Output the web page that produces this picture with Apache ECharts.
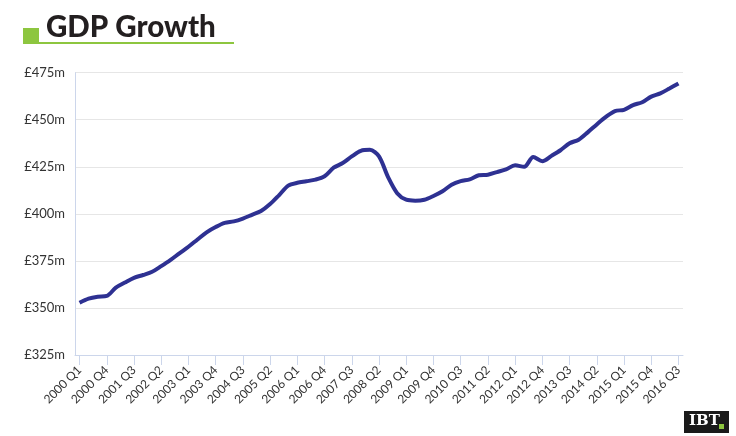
<!DOCTYPE html>
<html>
<head>
<meta charset="utf-8">
<script src="https://cdn.jsdelivr.net/npm/echarts@6/dist/echarts.min.js"></script>
<style>
html,body{margin:0;padding:0;background:#fff;}
#chart{width:736px;height:436px;}
</style>
</head>
<body>
<div id="chart"></div>
<script>
const titleText = 'GDP Growth';
const years = [2000,2001,2002,2003,2004,2005,2006,2007,2008,2009,2010,2011,2012,2013,2014,2015,2016];
const quarters = ['Q1','Q2','Q3','Q4'];
const categories = [];
years.forEach(y => quarters.forEach(q => { if (!(y === 2016 && q === 'Q4')) categories.push(y + ' ' + q); }));
const gdpValues = [
  352.8, 355.0, 356.0, 356.4, 360.8, 363.5, 366.0, 367.5, 369.2, 372.2,
  375.4, 379.0, 382.5, 386.4, 390.2, 393.0, 395.2, 396.0, 397.5, 399.5,
  401.5, 405.2, 410.0, 415.0, 416.5, 417.3, 418.2, 420.0, 424.5, 427.0,
  430.5, 433.5, 434.0, 430.5, 419.5, 411.0, 407.5, 407.0, 407.5, 409.5,
  412.0, 415.5, 417.4, 418.3, 420.5, 420.8, 422.2, 423.6, 425.8, 425.0,
  430.2, 428.0, 430.8, 433.8, 437.5, 439.4, 443.3, 447.5, 451.5, 454.6,
  455.3, 457.8, 459.3, 462.3, 464.0, 466.6, 469.3
];
const yMin = 325, yMax = 475, yStep = 25;

const chart = echarts.init(document.getElementById('chart'), null, {renderer: 'canvas'});
chart.setOption({
  animation: false,
  backgroundColor: '#ffffff',
  textStyle: {fontFamily: 'Lato'},
  grid: {left: 75, right: 53, top: 72.7, bottom: 81},
  xAxis: {
    type: 'category',
    data: categories,
    boundaryGap: true,
    axisLine: {lineStyle: {color: '#ccd6eb', width: 1}},
    axisTick: {show: true, interval: 2, alignWithLabel: true, length: 10, lineStyle: {color: '#ccd6eb'}},
    axisLabel: {interval: 2, rotate: 45, color: '#333', fontSize: 12, fontFamily: 'Lato', margin: 13},
    splitLine: {show: false}
  },
  yAxis: {
    type: 'value',
    min: yMin, max: yMax, interval: yStep,
    axisLine: {show: true, lineStyle: {color: '#ccd6eb', width: 1}},
    axisTick: {show: false},
    axisLabel: {formatter: '£{value}m', color: '#333', fontSize: 13, fontFamily: 'Lato', margin: 10},
    splitLine: {lineStyle: {color: '#e6e6e6', width: 1}}
  },
  series: [{
    type: 'line',
    data: gdpValues,
    smooth: 0.3,
    showSymbol: false,
    lineStyle: {color: '#2e3192', width: 4},
    itemStyle: {color: '#2e3192'}
  }],
  graphic: [
    {type: 'rect', shape: {x: 23, y: 42, width: 211, height: 2}, style: {fill: '#8dc63f'}},
    {type: 'rect', shape: {x: 23, y: 28, width: 16, height: 15}, style: {fill: '#8dc63f'}},
    {type: 'text', left: 46, top: 12, style: {text: titleText, fill: '#231f20', font: '900 29.5px Lato'}},
    {type: 'rect', shape: {x: 684, y: 411, width: 45, height: 22}, style: {fill: '#1a1a1a'}},
    {type: 'text', left: 689, top: 414, style: {text: 'IBT', fill: '#ffffff', font: 'bold 15px "DejaVu Serif"'}},
    {type: 'rect', shape: {x: 719, y: 424, width: 5, height: 5}, style: {fill: '#8dc63f'}}
  ]
});
</script>
</body>
</html>
